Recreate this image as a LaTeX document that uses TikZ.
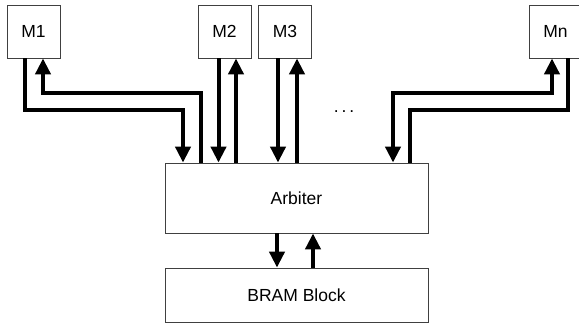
\documentclass[tikz,border=0pt]{standalone}
\usepackage{fontspec}
\setmainfont{Liberation Sans}
\usetikzlibrary{arrows.meta,positioning}

\begin{document}
\begin{tikzpicture}[>={Triangle[width=15pt,length=16pt]}, x=1pt, y=-1pt,
    unit/.style={draw=black!75, line width=0.8pt, minimum width=53pt, minimum height=53pt,
      inner sep=0pt, font=\fontsize{17.5}{20}\selectfont},
    block/.style={unit, minimum width=263pt},
    bus/.style={line width=4pt}]
		\useasboundingbox (0,0) rectangle (579,324);
		% masters
		\node[unit] (m1) at (33.5,31.5) {M1};
		\node[unit] (m2) at (224.5,31.5) {M2};
		\node[unit] (m3) at (285,31.5) {M3};
		\node[unit] (mn) at (555.5,31.5) {Mn};
		\node[font=\fontsize{17.5}{20}\selectfont] (dots) at (344,112) {.\,.\,.};
		% arbiter and memory
		\node[block, minimum height=70pt] (arbiter) at (296.5,198) {Arbiter};
		\node[block, minimum height=54pt] (bram) at (296.5,295) {BRAM Block};
		% M1
		\draw[bus,->] ([xshift=-8.5pt]m1.south) -- ++(0,52) -| ([xshift=-113.5pt]arbiter.north);
		\draw[bus,->] ([xshift=-95.5pt]arbiter.north) -- ++(0,-70) -| ([xshift=9.5pt]m1.south);
		% M2, M3
		\foreach \m/\dn/\up in {m2/-6/11.5, m3/-7/12} {
			\path ([xshift=\dn pt]\m.south) coordinate (d) ([xshift=\up pt]\m.south) coordinate (u);
			\draw[bus,->] (d) -- (d |- arbiter.north);
			\draw[bus,<-] (u) -- (u |- arbiter.north);
		}
		% Mn
		\draw[bus,<->] ([xshift=96.5pt]arbiter.north) -- ++(0,-70) -| ([xshift=-3.5pt]mn.south);
		\draw[bus] ([xshift=12.5pt]mn.south) -- ++(0,52) -| ([xshift=113.5pt]arbiter.north);
		% arbiter <-> BRAM
		\draw[bus,->] ([xshift=-19.5pt]arbiter.south) -- ([xshift=-19.5pt]bram.north);
		\draw[bus,<-] ([xshift=16.5pt]arbiter.south) -- ([xshift=16.5pt]bram.north);
	\end{tikzpicture}
\end{document}
